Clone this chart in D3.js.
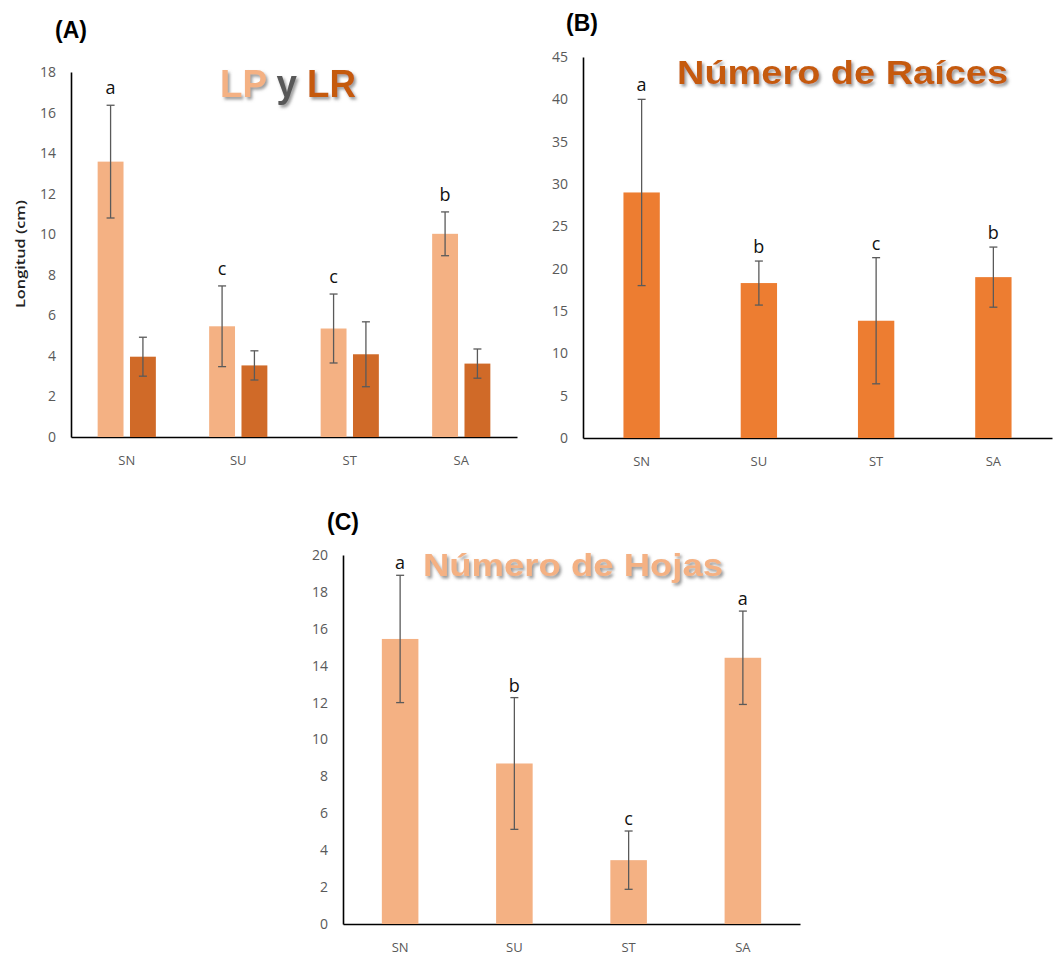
<!DOCTYPE html>
<html>
<head>
<meta charset="utf-8">
<script src="https://cdn.jsdelivr.net/npm/d3@7"></script>
<style>
  html, body { margin: 0; padding: 0; background: #fff; }
  svg { display: block; }
</style>
</head>
<body>
<svg id="chart" width="1058" height="957"></svg>
<script>
// Treatments on the x axis of every panel
const categories = ["SN", "SU", "ST", "SA"];

// (A) Longitud de la parte aérea (LP) y de la raíz (LR), cm
const lpMean = [13.58, 5.46, 5.35, 10.02];
const lpErr = [2.78, 1.99, 1.70, 1.08];
const lrMean = [3.96, 3.53, 4.08, 3.62];
const lrErr = [0.96, 0.72, 1.60, 0.72];
const lpLetters = ["a", "c", "c", "b"];
const ticksA = [0, 2, 4, 6, 8, 10, 12, 14, 16, 18];

// (B) Número de raíces
const rootMean = [29.0, 18.3, 13.85, 19.0];
const rootErr = [11.0, 2.6, 7.45, 3.55];
const rootLetters = ["a", "b", "c", "b"];
const ticksB = [0, 5, 10, 15, 20, 25, 30, 35, 40, 45];

// (C) Número de hojas
const leafMean = [15.45, 8.7, 3.46, 14.43];
const leafErr = [3.45, 3.57, 1.58, 2.53];
const leafLetters = ["a", "b", "c", "a"];
const ticksC = [0, 2, 4, 6, 8, 10, 12, 14, 16, 18, 20];

const colLP = "#F4B183";
const colLR = "#D06A28";
const colRoot = "#ED7D31";
const colDark = "#C55A11";
const errColor = "#5a5a5a";
const tickColor = "#595959";

const svg = d3.select("#chart");

// soft grey drop shadow used by the panel titles
const defs = svg.append("defs");
const f = defs.append("filter").attr("id", "shadow")
  .attr("x", "-10%").attr("y", "-30%").attr("width", "130%").attr("height", "180%");
f.append("feDropShadow").attr("dx", 2).attr("dy", 2.5)
  .attr("stdDeviation", 1.4).attr("flood-color", "#6f6f6f").attr("flood-opacity", 0.7);

function panel(cfg) {
  const g = svg.append("g");
  const x = d3.scaleBand().domain(categories).range([cfg.x0, cfg.x1]);
  const y = d3.scaleLinear().domain(cfg.domain).range([cfg.yZero, cfg.yTop]);

  // y axis: line plus grey labels, no tick marks
  const ya = g.append("g").attr("transform", `translate(${cfg.x0},0)`)
    .call(d3.axisLeft(y).tickValues(cfg.ticks).tickSize(0).tickPadding(15).tickFormat(d3.format("d")));
  ya.select(".domain").attr("stroke", "#000").attr("stroke-width", 1.6);
  ya.selectAll("text").attr("fill", tickColor)
    .style("font-family", "'Open Sans', 'Noto Sans', sans-serif").style("font-size", "14px");

  // x axis
  const xa = g.append("g").attr("transform", `translate(0,${cfg.yZero})`)
    .call(d3.axisBottom(x).tickSize(0).tickPadding(19));
  xa.select(".domain").attr("stroke", "#000").attr("stroke-width", 1.6);
  xa.selectAll("text").attr("fill", tickColor)
    .style("font-family", "'Open Sans', 'Noto Sans', sans-serif").style("font-size", "13px");

  // bar series
  cfg.series.forEach(s => {
    const rows = categories.map((c, i) => ({ c, m: s.mean[i], e: s.err[i] }));
    const cx = d => x(d.c) + x.bandwidth() / 2 + s.offset(x.bandwidth());
    const bw = s.width(x.bandwidth());
    g.append("g").selectAll("rect").data(rows).join("rect")
      .attr("x", d => cx(d) - bw / 2)
      .attr("width", bw)
      .attr("y", d => y(d.m))
      .attr("height", d => y(0) - y(d.m))
      .attr("fill", s.color);

    const eb = g.append("g").attr("stroke", errColor).attr("stroke-width", 1.3);
    rows.forEach(d => {
      const hi = y(d.m + d.e), lo = y(d.m - d.e), c = cx(d);
      eb.append("line").attr("x1", c).attr("x2", c).attr("y1", hi).attr("y2", lo);
      eb.append("line").attr("x1", c - 4).attr("x2", c + 4).attr("y1", hi).attr("y2", hi);
      eb.append("line").attr("x1", c - 4).attr("x2", c + 4).attr("y1", lo).attr("y2", lo);
    });

    if (s.letters) {
      g.append("g").selectAll("text").data(rows).join("text")
        .attr("x", d => cx(d))
        .attr("y", d => y(d.m + d.e) - cfg.letterGap)
        .attr("text-anchor", "middle")
        .attr("fill", "#111")
        .style("font-family", "'Open Sans', 'Noto Sans', sans-serif")
        .style("font-size", "18px")
        .text((d, i) => s.letters[i]);
    }
  });

  // panel tag
  g.append("text").attr("x", cfg.tag[0]).attr("y", cfg.tag[1])
    .style("font-family", "'Liberation Sans', Arial, sans-serif")
    .style("font-weight", "bold").style("font-size", "23px")
    .attr("fill", "#000").text(cfg.tagText);

  // title with shadow
  const t = g.append("text").attr("x", cfg.title.x).attr("y", cfg.title.y)
    .attr("textLength", cfg.title.len).attr("lengthAdjust", "spacingAndGlyphs")
    .attr("filter", "url(#shadow)")
    .style("font-family", "'Liberation Sans', Arial, sans-serif")
    .style("font-weight", "bold").style("font-size", cfg.title.size + "px");
  cfg.title.parts.forEach(p => t.append("tspan").attr("fill", p[1]).text(p[0]));

  return { g, x, y };
}

// (A)
const pA = panel({
  x0: 71, x1: 517, yZero: 437, yTop: 72, domain: [0, 18], ticks: ticksA,
  letterGap: 11,
  series: [
    { mean: lpMean, err: lpErr, color: colLP, letters: lpLetters,
      offset: bw => -bw * 0.145, width: bw => bw * 0.232 },
    { mean: lrMean, err: lrErr, color: colLR,
      offset: bw => bw * 0.145, width: bw => bw * 0.232 }
  ],
  tag: [55, 38], tagText: "(A)",
  title: { x: 220, y: 97, len: 136, size: 38,
           parts: [["LP", colLP], [" y ", "#595959"], ["LR", colDark]] }
});
pA.g.append("text")
  .attr("transform", "translate(25,254) rotate(-90)")
  .attr("text-anchor", "middle")
  .attr("textLength", 108).attr("lengthAdjust", "spacingAndGlyphs")
  .attr("fill", "#222")
  .style("font-family", "'Open Sans', 'Noto Sans', sans-serif")
  .style("font-weight", "600").style("font-size", "13px")
  .text("Longitud (cm)");

// (B)
panel({
  x0: 583, x1: 1052, yZero: 438, yTop: 57, domain: [0, 45], ticks: ticksB,
  letterGap: 8,
  series: [
    { mean: rootMean, err: rootErr, color: colRoot, letters: rootLetters,
      offset: () => 0, width: bw => bw * 0.31 }
  ],
  tag: [566, 31], tagText: "(B)",
  title: { x: 677, y: 84, len: 331, size: 34,
           parts: [["Número de Raíces", colDark]] }
});

// (C)
panel({
  x0: 343, x1: 800, yZero: 924, yTop: 555, domain: [0, 20], ticks: ticksC,
  letterGap: 6,
  series: [
    { mean: leafMean, err: leafErr, color: colLP, letters: leafLetters,
      offset: () => 0, width: bw => bw * 0.32 }
  ],
  tag: [327, 530], tagText: "(C)",
  title: { x: 423, y: 576, len: 300, size: 31,
           parts: [["Número de Hojas", colLP]] }
});
</script>
</body>
</html>
